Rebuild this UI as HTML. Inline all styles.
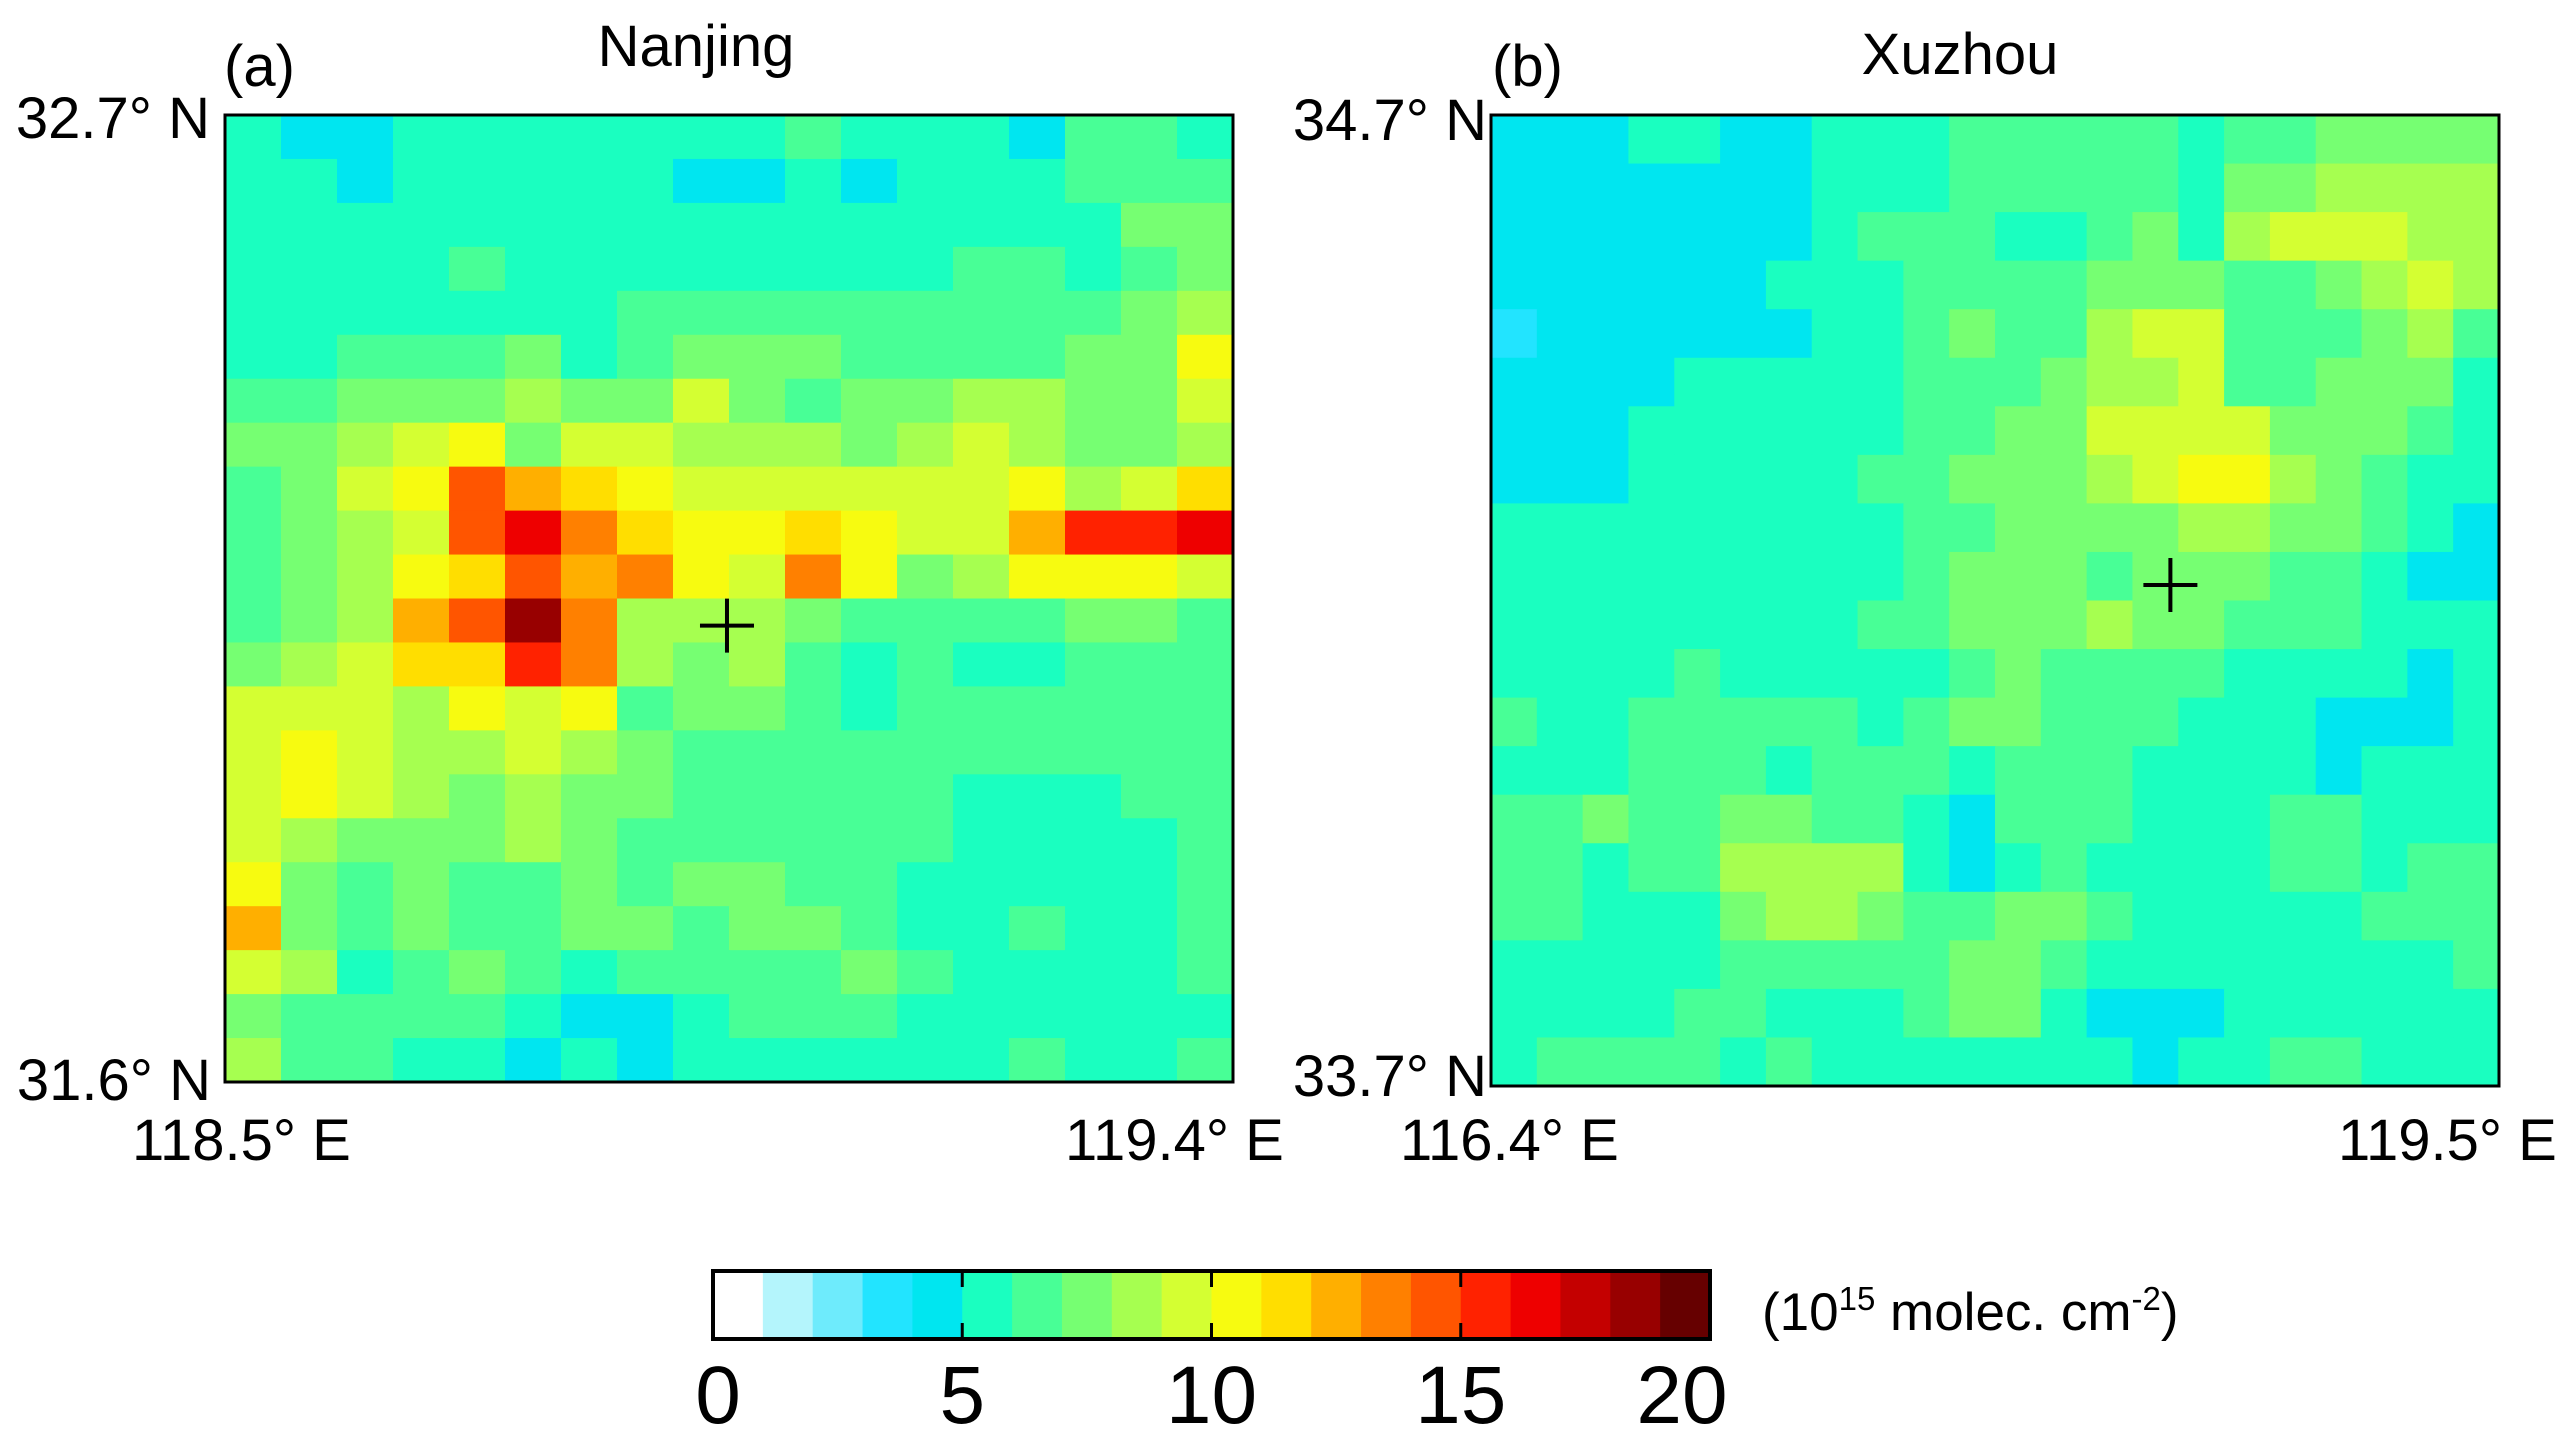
<!DOCTYPE html>
<html><head><meta charset="utf-8"><style>
html,body{margin:0;padding:0;background:#fff;}
svg{display:block;}
text{font-family:"Liberation Sans Narrow","Liberation Sans",sans-serif;fill:#000;}
</style></head><body>
<svg id="fig" width="2572" height="1449" viewBox="0 0 2572 1449" xmlns="http://www.w3.org/2000/svg">
<g id="panelA"></g>
<g id="panelB"></g>
<g id="legend"></g>
<text x="224" y="86" font-size="58">(a)</text>
<text x="696" y="66" font-size="58" text-anchor="middle">Nanjing</text>
<text x="1492" y="86" font-size="58">(b)</text>
<text x="1960" y="74" font-size="58" text-anchor="middle">Xuzhou</text>
<text x="210" y="138" font-size="58" text-anchor="end">32.7° N</text>
<text x="211" y="1100" font-size="58" text-anchor="end">31.6° N</text>
<text x="132" y="1160" font-size="58">118.5° E</text>
<text x="1065" y="1160" font-size="58">119.4° E</text>
<text x="1487" y="140" font-size="58" text-anchor="end">34.7° N</text>
<text x="1487" y="1096" font-size="58" text-anchor="end">33.7° N</text>
<text x="1400" y="1160" font-size="58">116.4° E</text>
<text x="2338" y="1160" font-size="58">119.5° E</text>
<text x="1762" y="1330" font-size="53">(10<tspan font-size="33" dy="-20">15</tspan><tspan dy="20"> molec. cm</tspan><tspan font-size="33" dy="-20">-2</tspan><tspan dy="20">)</tspan></text>
</svg>
<script>
const levelColors = ["#ffffff","#b4f5fc","#6eebfc","#22e4ff","#00e6f0","#1affc0","#48ff96","#76ff72","#a6ff50","#d4ff32","#f7fb10","#ffde00","#ffaf00","#ff8000","#ff5500","#ff2200","#ee0000","#c40000","#980000","#660000"];
const colorbarTicks = [0,5,10,15,20];
const nanjingRows = [
"5 4 4 5 5 5 5 5 5 5 6 5 5 5 4 6 6 5",
"5 5 4 5 5 5 5 5 4 4 5 4 5 5 5 6 6 6",
"5 5 5 5 5 5 5 5 5 5 5 5 5 5 5 5 7 7",
"5 5 5 5 6 5 5 5 5 5 5 5 5 6 6 5 6 7",
"5 5 5 5 5 5 5 6 6 6 6 6 6 6 6 6 7 8",
"5 5 6 6 6 7 5 6 7 7 7 6 6 6 6 7 7 10",
"6 6 7 7 7 8 7 7 9 7 6 7 7 8 8 7 7 9",
"7 7 8 9 10 7 9 9 8 8 8 7 8 9 8 7 7 8",
"6 7 9 10 14 12 11 10 9 9 9 9 9 9 10 8 9 11",
"6 7 8 9 14 16 13 11 10 10 11 10 9 9 12 15 15 16",
"6 7 8 10 11 14 12 13 10 9 13 10 7 8 10 10 10 9",
"6 7 8 12 14 18 13 8 8 8 7 6 6 6 6 7 7 6",
"7 8 9 11 11 15 13 8 7 8 6 5 6 5 5 6 6 6",
"9 9 9 8 10 9 10 6 7 7 6 5 6 6 6 6 6 6",
"9 10 9 8 8 9 8 7 6 6 6 6 6 6 6 6 6 6",
"9 10 9 8 7 8 7 7 6 6 6 6 6 5 5 5 6 6",
"9 8 7 7 7 8 7 6 6 6 6 6 6 5 5 5 5 6",
"10 7 6 7 6 6 7 6 7 7 6 6 5 5 5 5 5 6",
"12 7 6 7 6 6 7 7 6 7 7 6 5 5 6 5 5 6",
"9 8 5 6 7 6 5 6 6 6 6 7 6 5 5 5 5 6",
"7 6 6 6 6 5 4 4 5 6 6 6 5 5 5 5 5 5",
"8 6 6 5 5 4 5 4 5 5 5 5 5 5 6 5 5 6"];
const xuzhouRows = [
"4 4 4 5 5 4 4 5 5 5 6 6 6 6 6 5 6 6 7 7 7 7",
"4 4 4 4 4 4 4 5 5 5 6 6 6 6 6 5 7 7 8 8 8 8",
"4 4 4 4 4 4 4 5 6 6 6 5 5 6 7 5 8 9 9 9 8 8",
"4 4 4 4 4 4 5 5 5 6 6 6 6 7 7 7 6 6 7 8 9 8",
"3 4 4 4 4 4 4 5 5 6 7 6 6 8 9 9 6 6 6 7 8 6",
"4 4 4 4 5 5 5 5 5 6 6 6 7 8 8 9 6 6 7 7 7 5",
"4 4 4 5 5 5 5 5 5 6 6 7 7 9 9 9 9 7 7 7 6 5",
"4 4 4 5 5 5 5 5 6 6 7 7 7 8 9 10 10 8 7 6 5 5",
"5 5 5 5 5 5 5 5 5 6 6 7 7 7 7 8 8 7 7 6 5 4",
"5 5 5 5 5 5 5 5 5 6 7 7 7 6 7 7 7 6 6 5 4 4",
"5 5 5 5 5 5 5 5 6 6 7 7 7 8 7 7 6 6 6 5 5 5",
"5 5 5 5 6 5 5 5 5 5 6 7 6 6 6 6 5 5 5 5 4 5",
"6 5 5 6 6 6 6 6 5 6 7 7 6 6 6 5 5 5 4 4 4 5",
"5 5 5 6 6 6 5 6 6 6 5 6 6 6 5 5 5 5 4 5 5 5",
"6 6 7 6 6 7 7 6 6 5 4 6 6 6 5 5 5 6 6 5 5 5",
"6 6 5 6 6 8 8 8 8 5 4 5 6 5 5 5 5 6 6 5 6 6",
"6 6 5 5 5 7 8 8 7 6 6 7 7 6 5 5 5 5 5 6 6 6",
"5 5 5 5 5 6 6 6 6 6 7 7 6 5 5 5 5 5 5 5 5 6",
"5 5 5 5 6 6 5 5 5 6 7 7 5 4 4 4 5 5 5 5 5 5",
"5 6 6 6 6 5 6 5 5 5 5 5 5 5 4 5 5 6 6 5 5 5"];
const nanjingSite = [0.498, 0.528];
const xuzhouSite = [0.674, 0.484];

const NS = "http://www.w3.org/2000/svg";
function mk(tag, attrs, parent){const e=document.createElementNS(NS,tag);for(const k in attrs)e.setAttribute(k,attrs[k]);parent.appendChild(e);return e;}

function drawPanel(gid, rows, box, site, prefix){
  const g=document.getElementById(gid);
  const data=rows.map(r=>r.trim().split(/\s+/).map(Number));
  const nr=data.length, nc=data[0].length;
  const xs=c=>box.x+c*box.w/nc, ys=r=>box.y+r*box.h/nr;
  for(let r=0;r<nr;r++)for(let c=0;c<nc;c++){
    const v=data[r][c];
    const e=mk('rect',{x:xs(c),y:ys(r),width:box.w/nc+0.6,height:box.h/nr+0.6,fill:levelColors[Math.max(0,Math.min(19,Math.floor(v)))]},g);
    
    
  }
  const fr=mk('rect',{x:box.x,y:box.y,width:box.w,height:box.h,fill:'none',stroke:'#000','stroke-width':3},g);
  
  
  const cx=box.x+site[0]*box.w, cy=box.y+site[1]*box.h;
  const m=mk('path',{d:`M${cx-27} ${cy}H${cx+27}M${cx} ${cy-27}V${cy+27}`,stroke:'#000','stroke-width':4,fill:'none'},g);
  
  
}
drawPanel('panelA', nanjingRows, {x:225,y:115,w:1008,h:967}, nanjingSite, 'nanjing');
drawPanel('panelB', xuzhouRows, {x:1491,y:115,w:1008,h:971}, xuzhouSite, 'xuzhou');

(function(){
  const g=document.getElementById('legend');
  const bx=713,by=1271,bw=997,bh=68;
  const sx=v=>bx+v/20*bw;
  levelColors.forEach((col,i)=>{
    const e=mk('rect',{x:sx(i),y:by,width:bw/20+0.6,height:bh,fill:col},g);
    
    
  });
  const fr=mk('rect',{x:bx,y:by,width:bw,height:bh,fill:'none',stroke:'#000','stroke-width':4},g);
  
  
  colorbarTicks.forEach(t=>{
    if(t>0&&t<20){
      const tk=mk('path',{d:`M${sx(t)} ${by}v16M${sx(t)} ${by+bh}v-16`,stroke:'#000','stroke-width':3},g);
      
      
    }
    const tx=mk('text',{x:t===20?sx(t)-28:sx(t)+(t===0?5:0),y:1423,'font-size':82,'text-anchor':'middle'},g);
    tx.textContent=String(t);
    
    
  });
})();
</script>
</body></html>
